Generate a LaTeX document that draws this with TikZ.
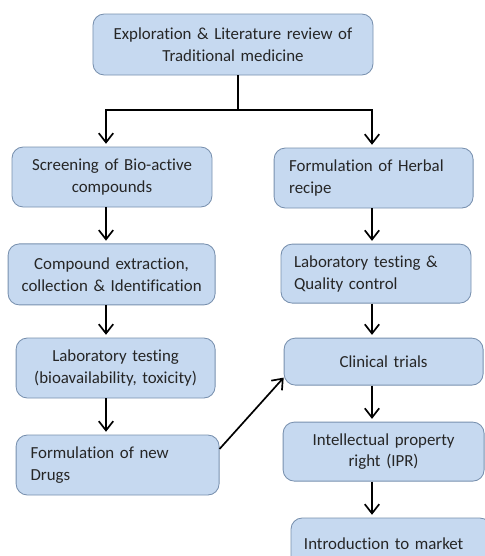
\documentclass[tikz,border=0pt]{standalone}
\usepackage{fontspec}
\setmainfont{Carlito}[Ligatures={NoCommon}]
\usetikzlibrary{arrows.meta}
\definecolor{boxfill}{HTML}{C6D9F0}
\definecolor{boxline}{HTML}{7890AE}
\definecolor{boxtext}{HTML}{262626}
\begin{document}
\begin{tikzpicture}

\tikzstyle{box}=[rectangle, rounded corners=8pt, draw=boxline, line width=0.6pt, fill=boxfill, text=boxtext, inner sep=0pt, align=center, font=\fontsize{12}{15.6}\selectfont]
\tikzstyle{lbox}=[box, align=left]
\tikzstyle{arrow}=[-{Straight Barb[length=2.3mm,width=3.6mm]}, line width=1.2pt]

\useasboundingbox (0,0) rectangle (12.125,-13.9);
\clip (0,0) rectangle (12.125,-13.9);

\node (top) [box, minimum width=7cm, minimum height=1.525cm, text width=6.5cm] at (5.825,-1.1125) {Exploration \& Literature review of\\ Traditional medicine};

% left column
\node (scr) [box, minimum width=5cm, minimum height=1.5cm, text width=4.6cm] at (2.8,-4.425) {Screening of Bio-active\\ compounds};
\node (ext) [box, minimum width=5.175cm, minimum height=1.525cm, text width=4.8cm] at (2.79,-6.86) {Compound extraction,\\ collection \& Identification};
\node (lab) [box, minimum width=4.975cm, minimum height=1.5cm, text width=4.6cm] at (2.89,-9.2) {Laboratory testing\\ (bioavailability, toxicity)};
\node (drug) [lbox, minimum width=5.075cm, minimum height=1.5cm, text width=4.35cm] at (2.94,-11.625) {Formulation of new\\ Drugs};

% right column
\node (herb) [lbox, minimum width=4.975cm, minimum height=1.5cm, text width=4.225cm] at (9.34,-4.45) {Formulation of Herbal\\ recipe};
\node (qc) [lbox, minimum width=4.75cm, minimum height=1.475cm, text width=4.1cm] at (9.4,-6.84) {Laboratory testing \&\\ Quality control};
\node (clin) [box, minimum width=4.975cm, minimum height=1.175cm, text width=4.6cm] at (9.59,-9.04) {Clinical trials};
\node (ipr) [box, minimum width=5.025cm, minimum height=1.475cm, text width=4.6cm] at (9.59,-11.29) {Intellectual property\\ right (IPR)};
\node (mkt) [lbox, minimum width=5cm, minimum height=1.3cm, text width=4.35cm] at (9.775,-13.6) {Introduction to market};

\coordinate (split) at (5.95,-2.75);
\coordinate (lcol) at (2.65,0);
\coordinate (rcol) at (9.3,0);

\draw [line width=1.2pt] (top.south -| split) -- (split);
\draw [arrow] (split) -| ([yshift=2pt]scr.north -| lcol);
\draw [arrow] (split) -| ([yshift=2pt]herb.north -| rcol);

\draw [arrow] (scr.south -| lcol) -- ([yshift=2pt]ext.north -| lcol);
\draw [arrow] (ext.south -| lcol) -- ([yshift=2pt]lab.north -| lcol);
\draw [arrow] (lab.south -| lcol) -- ([yshift=2pt]drug.north -| lcol);

\draw [arrow] (herb.south -| rcol) -- ([yshift=2pt]qc.north -| rcol);
\draw [arrow] (qc.south -| rcol) -- ([yshift=2pt]clin.north -| rcol);
\draw [arrow] (clin.south -| rcol) -- ([yshift=2pt]ipr.north -| rcol);
\draw [arrow] (ipr.south -| rcol) -- ([yshift=2pt]mkt.north -| rcol);

\draw [arrow] ([yshift=0.4cm]drug.east) -- ([yshift=-0.4cm]clin.west);

\end{tikzpicture}
\end{document}
